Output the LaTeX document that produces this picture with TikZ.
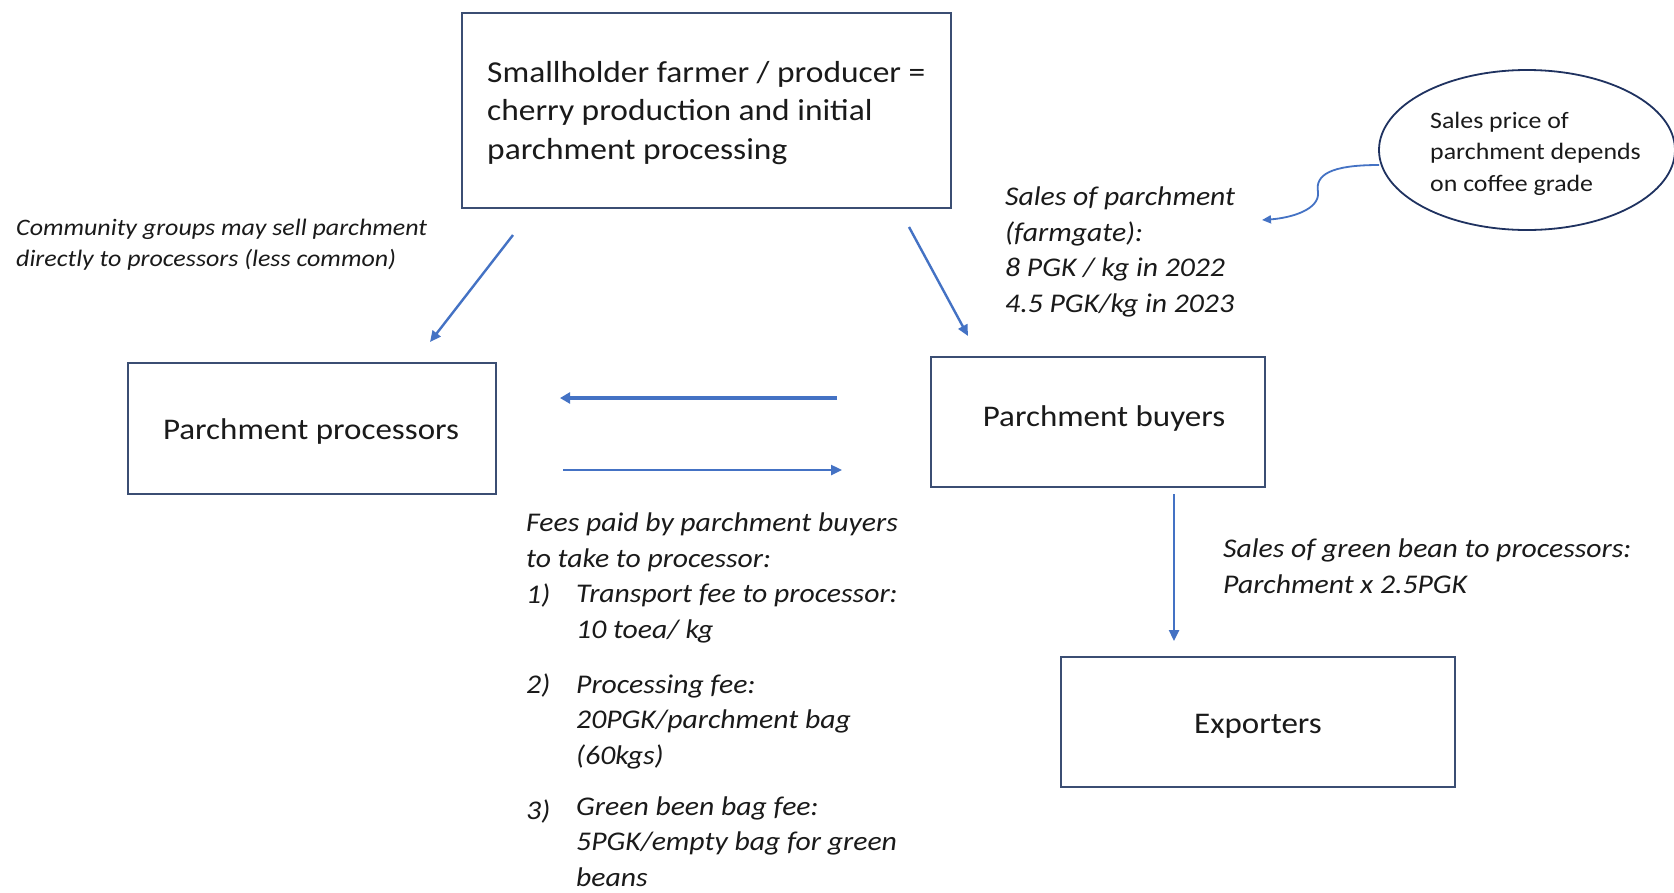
\documentclass[tikz,border=0pt]{standalone}
\usepackage{fontspec}
\setmainfont{Carlito}[FakeStretch=1.1]
\usetikzlibrary{arrows.meta}
\definecolor{boxc}{HTML}{3B4E73}
\definecolor{ellc}{HTML}{1F3260}
\definecolor{arrc}{HTML}{4472C4}
\definecolor{txtc}{HTML}{1A1A1A}
\tikzset{
  box/.style={draw=boxc, line width=1.5pt, inner sep=0pt, text=txtc},
  arr/.style={draw=arrc, line width=2.4pt, -{Triangle[length=11pt,width=10pt]}},
  note/.style={anchor=base west, inner sep=0pt, align=left, text=txtc},
  boxfont/.style={font=\fontsize{30}{38.5}\selectfont},
  itfont/.style={font=\fontsize{27}{35.5}\selectfont\itshape},
}
\begin{document}
\begin{tikzpicture}[x=1pt,y=-1pt]
\useasboundingbox[fill=white] (0,0) rectangle (1674,892);
% boxes
\node[box, minimum width=489pt, minimum height=195pt] (farmer) at (706.5,110.5) {};
\node[note, font=\fontsize{30.4}{38.5}\selectfont] (farmertxt) at (487,159) {Smallholder farmer / producer =\\cherry production and initial\\parchment processing};
\node[box, minimum width=368pt, minimum height=131pt] (proc) at (312,428.5) {};
\node[boxfont, inner sep=0pt, text=txtc] (proctxt) at (311,431) {Parchment processors};
\node[box, minimum width=334pt, minimum height=130pt] (buy) at (1098,422) {};
\node[boxfont, inner sep=0pt, text=txtc] (buytxt) at (1104,418) {Parchment buyers};
\node[box, minimum width=394pt, minimum height=130pt] (exp) at (1258,722) {};
\node[boxfont, inner sep=0pt, text=txtc] (exptxt) at (1258,726) {Exporters};
% ellipse
\draw[draw=ellc, line width=1.8pt] (1527,150) ellipse [x radius=148pt, y radius=80pt];
\coordinate (ellW) at (1379,165);
\node[note, font=\fontsize{23.5}{31.5}\selectfont] (elltxt) at (1430,191) {Sales price of\\parchment depends\\on coffee grade};
% notes
\node[note, font=\fontsize{23.6}{31}\selectfont\itshape] (comm) at (16,266) {Community groups may sell parchment\\directly to processors (less common)};
\node[note, itfont] (sales) at (1005,312) {Sales of parchment\\(farmgate):\\8 PGK / kg in 2022\\4.5 PGK/kg in 2023};
\node[note, itfont] (green) at (1223,593) {Sales of green bean to processors:\\Parchment x 2.5PGK};
\node[note, itfont] (fees) at (526,567) {Fees paid by parchment buyers\\to take to processor:};
\node[note, itfont] (n1) at (526,603) {1)};
\node[note, itfont] (f1) at (576,638) {Transport fee to processor:\\10 toea/ kg};
\node[note, itfont] (n2) at (526,693) {2)};
\node[note, itfont] (f2) at (576,764) {Processing fee:\\20PGK/parchment bag\\(60kgs)};
\node[note, itfont] (n3) at (526,819) {3)};
\node[note, itfont] (f3) at (576,886) {Green been bag fee:\\5PGK/empty bag for green\\beans};
% arrow end points
\coordinate (a1s) at (513,235); \coordinate (a1e) at (430,342);
\coordinate (a2s) at (909,227); \coordinate (a2e) at (968,336);
\coordinate (a3s) at (837,398); \coordinate (a3e) at (560,398);
\coordinate (a4s) at (563,470); \coordinate (a4e) at (842,470);
\coordinate (a5s) at (1174,494); \coordinate (a5e) at (1174,641);
\coordinate (cvE) at (1262,220);
\draw[arr] (a1s) -- (a1e);
\draw[arr] (a2s) -- (a2e);
\draw[arr, line width=3.2pt, -{Triangle[length=10pt,width=11pt]}] (a3s) -- (a3e);
\draw[arr] (a4s) -- (a4e);
\draw[arr] (a5s) -- (a5e);
\draw[arr, line width=1.8pt, -{Triangle[length=9pt,width=8pt]}] (ellW) .. controls (1330,165) and (1315,175) .. (1318,192) .. controls (1320,210) and (1290,218) .. (cvE);
\end{tikzpicture}
\end{document}
